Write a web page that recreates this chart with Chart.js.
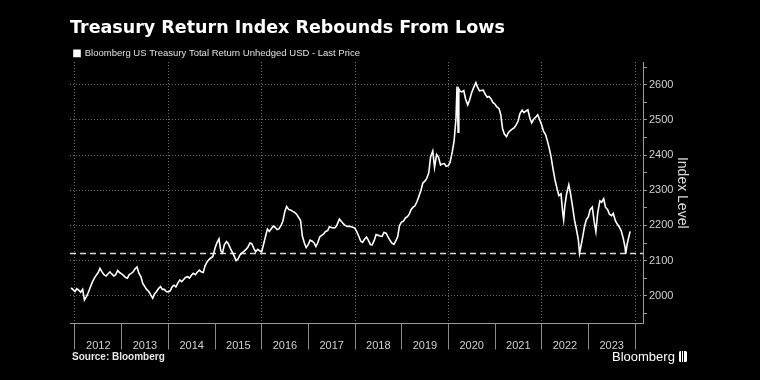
<!DOCTYPE html>
<html><head><meta charset="utf-8">
<script src="https://cdn.jsdelivr.net/npm/chart.js@4.4.1/dist/chart.umd.min.js"></script>
<style>
html,body{margin:0;padding:0;background:#000;}
#wrap{position:relative;width:760px;height:380px;background:#000;overflow:hidden;}
canvas{display:block;}
.source{position:absolute;left:72px;top:351px;font:bold 10px "Liberation Sans",Arial,sans-serif;line-height:12px;color:#e6e6e6;}
.logo{position:absolute;left:612px;top:349px;font:13px "Liberation Sans",Arial,sans-serif;line-height:16px;color:#fff;white-space:nowrap;}
.icon{display:inline-block;width:8px;height:11px;margin-left:4px;vertical-align:-1px;border-radius:1.5px;
 background:linear-gradient(to right,#fff 0 2px,#000 2px 3px,#fff 3px 4px,#000 4px 5px,#fff 5px);}
</style></head>
<body><div id="wrap"><canvas id="c" width="760" height="380"></canvas>
<div class="source">Source: Bloomberg</div>
<div class="logo">Bloomberg<span class="icon"></span></div></div>
<script>
const titleText = 'Treasury Return Index Rebounds From Lows';
const seriesName = 'Bloomberg US Treasury Total Return Unhedged USD - Last Price';
const axisTitle = 'Index Level';

const dates = [
 '2011-12-01','2011-12-15',
 '2012-01-01','2012-01-15','2012-02-01','2012-02-15','2012-03-01','2012-03-15','2012-04-01','2012-04-15','2012-05-01','2012-05-15','2012-06-01','2012-06-15','2012-07-01','2012-07-15','2012-08-01','2012-08-15','2012-09-01','2012-09-15','2012-10-01','2012-10-15','2012-11-01','2012-11-15','2012-12-01','2012-12-15',
 '2013-01-01','2013-01-15','2013-02-01','2013-02-15','2013-03-01','2013-03-15','2013-04-01','2013-04-15','2013-05-01','2013-05-15','2013-06-01','2013-06-15','2013-07-01','2013-07-15','2013-08-01','2013-08-15','2013-09-01','2013-09-15','2013-10-01','2013-10-15','2013-11-01','2013-11-15','2013-12-01','2013-12-15',
 '2014-01-01','2014-01-15','2014-02-01','2014-02-15','2014-03-01','2014-03-15','2014-04-01','2014-04-15','2014-05-01','2014-05-15','2014-06-01','2014-06-15','2014-07-01','2014-07-15','2014-08-01','2014-08-15','2014-09-01','2014-09-15','2014-10-01','2014-10-15','2014-11-01','2014-11-15','2014-12-01','2014-12-15',
 '2015-01-01','2015-01-15','2015-02-01','2015-02-15','2015-03-01','2015-03-15','2015-04-01','2015-04-15','2015-05-01','2015-05-15','2015-06-01','2015-06-15','2015-07-01','2015-07-15','2015-08-01','2015-08-15','2015-09-01','2015-09-15','2015-10-01','2015-10-15','2015-11-01','2015-11-15','2015-12-01','2015-12-15',
 '2016-01-01','2016-01-15','2016-02-01','2016-02-15','2016-03-01','2016-03-15','2016-04-01','2016-04-15','2016-05-01','2016-05-15','2016-06-01','2016-06-15','2016-07-01','2016-07-15','2016-08-01','2016-08-15','2016-09-01','2016-09-15','2016-10-01','2016-10-15','2016-11-01','2016-11-15','2016-12-01','2016-12-15',
 '2017-01-01','2017-01-15','2017-02-01','2017-02-15','2017-03-01','2017-03-15','2017-04-01','2017-04-15','2017-05-01','2017-05-15','2017-06-01','2017-06-15','2017-07-01','2017-07-15','2017-08-01','2017-08-15','2017-09-01','2017-09-15','2017-10-01','2017-10-15','2017-11-01','2017-11-15','2017-12-01','2017-12-15',
 '2018-01-01','2018-01-15','2018-02-01','2018-02-15','2018-03-01','2018-03-15','2018-04-01','2018-04-15','2018-05-01','2018-05-15','2018-06-01','2018-06-15','2018-07-01','2018-07-15','2018-08-01','2018-08-15','2018-09-01','2018-09-15','2018-10-01','2018-10-15','2018-11-01','2018-11-15','2018-12-01','2018-12-15',
 '2019-01-01','2019-01-15','2019-02-01','2019-02-15','2019-03-01','2019-03-15','2019-04-01','2019-04-15','2019-05-01','2019-05-15','2019-06-01','2019-06-15','2019-07-01','2019-07-15','2019-08-01','2019-08-15','2019-09-01','2019-09-15','2019-10-01','2019-10-15','2019-11-01','2019-11-15','2019-12-01','2019-12-15',
 '2020-01-01','2020-01-15','2020-02-01','2020-02-15','2020-03-01','2020-03-09','2020-03-18','2020-03-23','2020-04-01','2020-04-15','2020-05-01','2020-05-15','2020-06-01','2020-06-15','2020-07-01','2020-07-15','2020-08-04','2020-08-15','2020-09-01','2020-09-15','2020-10-01','2020-10-15','2020-11-01','2020-11-15','2020-12-01','2020-12-15',
 '2021-01-01','2021-01-15','2021-02-01','2021-02-15','2021-03-01','2021-03-15','2021-04-01','2021-04-15','2021-05-01','2021-05-15','2021-06-01','2021-06-15','2021-07-01','2021-07-15','2021-08-01','2021-08-15','2021-09-01','2021-09-15','2021-10-01','2021-10-15','2021-11-01','2021-11-15','2021-12-01','2021-12-15',
 '2022-01-01','2022-01-15','2022-02-01','2022-02-15','2022-03-01','2022-03-15','2022-04-01','2022-04-15','2022-05-01','2022-05-15','2022-06-01','2022-06-15','2022-06-22','2022-07-01','2022-07-15','2022-08-01','2022-08-15','2022-09-01','2022-09-15','2022-10-01','2022-10-15','2022-10-24','2022-11-01','2022-11-15','2022-12-01','2022-12-15',
 '2023-01-01','2023-01-15','2023-02-01','2023-02-15','2023-03-01','2023-03-15','2023-04-01','2023-04-15','2023-05-01','2023-05-15','2023-06-01','2023-06-15','2023-07-01','2023-07-15','2023-08-01','2023-08-15','2023-09-01','2023-09-15','2023-10-01','2023-10-15','2023-10-20','2023-11-01','2023-11-15','2023-11-24'
];

const values = [
 2022,2018,
 2012,2020,2015,2010,2018,1988,1998,2010,2025,2038,2050,2058,2066,2078,2067,2060,2056,2062,2068,2062,2056,2060,2072,2066,
 2062,2058,2052,2050,2060,2063,2068,2076,2082,2065,2054,2035,2026,2018,2012,2003,1993,2005,2012,2020,2026,2018,2018,2012,
 2011,2014,2026,2030,2025,2035,2045,2040,2046,2052,2054,2050,2058,2064,2060,2067,2073,2068,2066,2085,2097,2103,2108,2111,
 2135,2150,2162,2128,2122,2145,2154,2148,2135,2125,2112,2100,2105,2116,2122,2126,2132,2138,2150,2148,2135,2125,2132,2128,
 2125,2145,2170,2190,2183,2190,2198,2195,2188,2190,2200,2212,2240,2254,2245,2244,2240,2237,2232,2224,2214,2170,2150,2137,
 2146,2158,2155,2150,2140,2150,2168,2172,2176,2183,2185,2196,2194,2193,2194,2203,2218,2212,2205,2200,2197,2198,2196,2195,
 2192,2182,2168,2155,2152,2160,2167,2158,2146,2145,2158,2174,2172,2170,2169,2180,2178,2168,2158,2150,2146,2155,2168,2200,
 2210,2212,2222,2225,2232,2245,2252,2256,2268,2282,2300,2320,2326,2333,2350,2395,2412,2365,2402,2395,2372,2375,2376,2368,
 2370,2380,2410,2440,2505,2595,2465,2588,2582,2580,2584,2560,2543,2556,2577,2590,2606,2595,2583,2584,2585,2574,2565,2567,2560,2550,
 2545,2537,2533,2515,2475,2460,2453,2464,2470,2474,2478,2486,2497,2518,2528,2521,2526,2529,2505,2492,2503,2508,2515,2502,
 2486,2468,2458,2440,2420,2396,2358,2330,2305,2285,2290,2235,2216,2255,2290,2316,2290,2250,2215,2187,2158,2121,2135,2162,2195,2215,
 2225,2245,2252,2212,2182,2235,2270,2266,2276,2252,2245,2232,2228,2234,2213,2204,2195,2185,2163,2138,2119,2148,2170,2183
];

const lowLevel = 2120;
const xTickYears = [2012,2013,2014,2015,2016,2017,2018,2019,2020,2021,2022,2023,2024];
const xTickLabels = ['2012','2013','2014','2015','2016','2017','2018','2019','2020','2021','2022','2023',''];
const yTickValues = [1950,2000,2050,2100,2150,2200,2250,2300,2350,2400,2450,2500,2550,2600,2650];
const yTickLabels = ['','2000','','2100','','2200','','2300','','2400','','2500','','2600',''];

const xMin = 2011.893, xMax = 2024.171;
const yMin = 1921, yMax = 2665;

function toYear(s){
  const [y,m,d] = s.split('-').map(Number);
  const a = Date.UTC(y,0,1), b = Date.UTC(y+1,0,1);
  return y + (Date.UTC(y,m-1,d) - a) / (b - a);
}
if (dates.length !== values.length) console.error('length mismatch', dates.length, values.length);

const seriesData = dates.map((d,i) => ({x: toYear(d), y: values[i]}));
const lowData = [{x: xMin, y: lowLevel}, {x: xMax, y: lowLevel}];

const tickFont = {family: '"Liberation Sans", Arial, sans-serif', size: 11};
const gridGray = '#6a6a6a';
const axisGray = '#9a9a9a';

new Chart(document.getElementById('c'), {
  type: 'line',
  data: {datasets: [
    {label: seriesName, data: seriesData, borderColor: '#ffffff', backgroundColor: '#ffffff',
     borderWidth: 1.6, pointRadius: 0, tension: 0, order: 1},
    {label: 'low', data: lowData, borderColor: '#d9d9d9', backgroundColor: '#d9d9d9',
     borderWidth: 1.5, borderDash: [6,4], pointRadius: 0, tension: 0, order: 2}
  ]},
  options: {
    responsive: false, animation: false,
    layout: {padding: {left: 70, right: 58, top: 0, bottom: 30}},
    plugins: {
      title: {display: true, text: titleText, align: 'start', color: '#ffffff',
        font: {family: '"DejaVu Sans", sans-serif', weight: 'bold', size: 17.5},
        padding: {top: 17.5, bottom: 6.1}},
      legend: {display: true, align: 'start', maxHeight: 17.4,
        labels: {color: '#e0e0e0', font: {family: '"Liberation Sans", Arial, sans-serif', size: 9.5},
          boxWidth: 6, boxHeight: 6, padding: 4,
          filter: item => item.datasetIndex === 0}},
      tooltip: {enabled: false}
    },
    scales: {
      x: {type: 'linear', min: xMin, max: xMax,
        afterBuildTicks: s => { s.ticks = xTickYears.map(v => ({value: v})); },
        afterFit: s => { s.height = 26.5; },
        ticks: {autoSkip: false, maxRotation: 0, color: '#d0d0d0', font: tickFont,
          labelOffset: 23.3, padding: -10, callback: (v, i) => xTickLabels[i]},
        grid: {color: c => (c.tick && c.tick.value % 2 === 0) ? gridGray : 'rgba(0,0,0,0)',
          lineWidth: 1, tickLength: 26, tickColor: '#8a8a8a', tickWidth: 1, tickBorderDash: []},
        border: {display: true, color: axisGray, width: 1, dash: [1,2]}
      },
      y: {position: 'right', min: yMin, max: yMax,
        afterBuildTicks: s => { s.ticks = yTickValues.map(v => ({value: v})); },
        afterFit: s => { s.width = 59; },
        ticks: {autoSkip: false, color: '#d0d0d0', font: tickFont, padding: 2,
          callback: (v, i) => yTickLabels[i]},
        grid: {color: c => (c.tick && c.tick.value % 100 === 0) ? gridGray : 'rgba(0,0,0,0)',
          lineWidth: 1, tickLength: 4, tickColor: axisGray, tickWidth: 1, tickBorderDash: []},
        border: {display: true, color: axisGray, width: 1, dash: [1,2]},
        title: {display: true, text: axisTitle, color: '#dcdcdc',
          font: {family: '"Liberation Sans", Arial, sans-serif', size: 14},
          padding: {top: 11.6, bottom: 0}}
      }
    }
  }
});
</script>
</body></html>
